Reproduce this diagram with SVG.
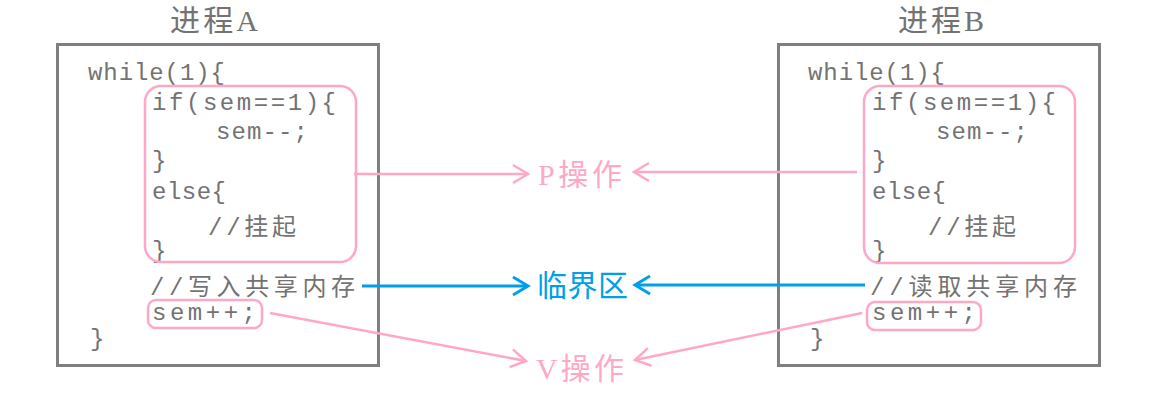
<svg xmlns="http://www.w3.org/2000/svg" width="1163" height="420" viewBox="0 0 1163 420">
<defs>
<style>
.frame{fill:none;stroke:#7f7f7f;stroke-width:3}
.pbox{fill:none;stroke:#ffa8c6;stroke-width:2.5}
.code{font-family:"Liberation Mono","Noto Sans CJK SC",monospace;font-size:24px;fill:#737373}
.title{font-family:"Liberation Serif","Noto Sans CJK SC",serif;font-size:30px;fill:#737373}
.lab{font-family:"Liberation Serif","Noto Sans CJK SC",serif;font-size:30px}
.pink{stroke:#ffa8c6;stroke-width:2.5;fill:none}
.blue{stroke:#00a0e9;stroke-width:3;fill:none}
</style>
<marker id="ap" markerUnits="userSpaceOnUse" markerWidth="20" markerHeight="22" refX="17" refY="11" orient="auto">
<path d="M2,2 L17,11 L2,20" fill="none" stroke="#ffa8c6" stroke-width="2.5"/>
</marker>
<marker id="ab" markerUnits="userSpaceOnUse" markerWidth="20" markerHeight="22" refX="17" refY="11" orient="auto">
<path d="M2,2 L17,11 L2,20" fill="none" stroke="#00a0e9" stroke-width="3"/>
</marker>
</defs>
<rect width="1163" height="420" fill="#ffffff"/>

<g id="procA">
<text class="title" x="170" y="31" textLength="88">进程A</text>
<rect class="frame" x="57.5" y="44.5" width="321" height="321"/>
<text class="code" x="88" y="80" textLength="137">while(1){</text>
<text class="code" x="152" y="110" textLength="184">if(sem==1){</text>
<text class="code" x="216" y="139" textLength="92">sem--;</text>
<text class="code" x="152" y="168">}</text>
<text class="code" x="152" y="199" textLength="74">else{</text>
<text class="code" x="208" y="235" textLength="88">//挂起</text>
<text class="code" x="152" y="258">}</text>
<text class="code" x="150" y="295" textLength="205">//写入共享内存</text>
<text class="code" x="152" y="320" textLength="104">sem++;</text>
<text class="code" x="90" y="346">}</text>
<rect class="pbox" x="145" y="86" width="211" height="176" rx="16"/>
<rect class="pbox" x="148" y="300" width="114" height="28" rx="8"/>
</g>

<g id="procB">
<text class="title" x="898" y="31" textLength="86">进程B</text>
<rect class="frame" x="778.5" y="44.5" width="321" height="321"/>
<text class="code" x="808" y="80" textLength="137">while(1){</text>
<text class="code" x="872" y="110" textLength="184">if(sem==1){</text>
<text class="code" x="936" y="139" textLength="92">sem--;</text>
<text class="code" x="872" y="168">}</text>
<text class="code" x="872" y="199" textLength="74">else{</text>
<text class="code" x="928" y="235" textLength="88">//挂起</text>
<text class="code" x="872" y="258">}</text>
<text class="code" x="870" y="295" textLength="207">//读取共享内存</text>
<text class="code" x="872" y="320" textLength="104">sem++;</text>
<text class="code" x="810" y="346">}</text>
<rect class="pbox" x="864" y="86" width="211" height="177" rx="16"/>
<rect class="pbox" x="867" y="302" width="114" height="28" rx="8"/>
</g>

<g id="labelP"><text class="lab" x="538" y="185" fill="#ffa8c6" textLength="84">P操作</text></g>
<g id="labelCS"><text class="lab" x="537" y="296" fill="#00a0e9" textLength="91">临界区</text></g>
<g id="labelV"><text class="lab" x="536" y="379" fill="#ffa8c6" textLength="88">V操作</text></g>

<g id="connectors">
<line class="pink" x1="354" y1="174" x2="528" y2="174" marker-end="url(#ap)"/>
<line class="pink" x1="857" y1="172" x2="634" y2="172" marker-end="url(#ap)"/>
<line class="blue" x1="362" y1="286" x2="528" y2="286" marker-end="url(#ab)"/>
<line class="blue" x1="865" y1="285" x2="635" y2="285" marker-end="url(#ab)"/>
<line class="pink" x1="270" y1="313" x2="526" y2="361" marker-end="url(#ap)"/>
<line class="pink" x1="862" y1="313" x2="635" y2="360" marker-end="url(#ap)"/>
</g>
</svg>
